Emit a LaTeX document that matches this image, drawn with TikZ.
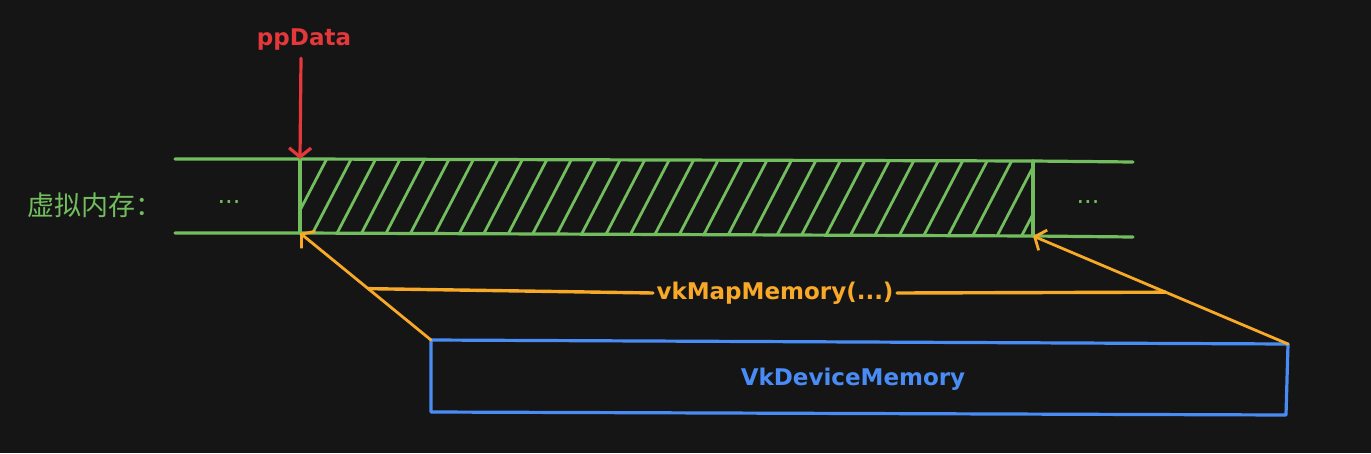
\documentclass[tikz,border=0pt]{standalone}
\usepackage{fontspec}
\setmainfont{DejaVu Sans}
\newfontfamily\cjk{Noto Sans CJK SC}
\usetikzlibrary{arrows.meta,calc}
\definecolor{bg}{HTML}{151515}
\definecolor{memgreen}{HTML}{72BD5E}
\definecolor{ptrred}{HTML}{E5383B}
\definecolor{maporange}{HTML}{F8A928}
\definecolor{devblue}{HTML}{4A8CF5}
\tikzset{
    barb/.style={-{Straight Barb[length=9pt,width=22pt]}},
    boldlabel/.style={font=\fontsize{23}{28}\selectfont\bfseries},
}
\begin{document}
\begin{tikzpicture}[x=1pt,y=-1pt,line cap=round,line join=round]
        %% Background
        \fill[bg] (0,0) rectangle (1371,453);
        %% Memory strip
        \coordinate (ltop) at (175,159);
        \coordinate (lbot) at (175,233);
        \coordinate (hA) at (300,159);
        \coordinate (hB) at (1033,161);
        \coordinate (hC) at (1033,236);
        \coordinate (hD) at (300,233);
        \coordinate (rtop) at (1133,162);
        \coordinate (rbot) at (1133,237);
        \begin{scope}
            \clip (hA) -- (hB) -- (hC) -- (hD) -- cycle;
            \foreach \i in {0,...,30}
                \draw[memgreen,line width=2.8pt] ({326.7+24.5*\i+4.7},150) to ({326.7+24.5*\i-44.8},245);
        \end{scope}
        \draw[memgreen,line width=3.2pt] (ltop) to (hA) to (hB) to (rtop);
        \draw[memgreen,line width=3.2pt] (lbot) to (hD) to (hC) to (rbot);
        \draw[memgreen,line width=3.4pt] (hA) to (hD);
        \draw[memgreen,line width=3.2pt] (hB) to (hC);
        \node[anchor=west,text=memgreen,font=\cjk\fontsize{27}{32}\selectfont] (virt) at (24,205) {虚拟内存：};
        \node[anchor=base,text=memgreen,font=\fontsize{24}{26}\selectfont] (ldots) at (229,203) {...};
        \node[anchor=base,text=memgreen,font=\fontsize{24}{26}\selectfont] (rdots) at (1088,203) {...};
        %% ppData Label
        \node[anchor=center,text=ptrred,boldlabel] (pp) at (304,40) {ppData};
        \draw[ptrred,line width=3.2pt,barb] (pp.south) ++(-3,4) coordinate (ppstart) (ppstart) to (hA);
        %% VkDeviceMemory
        \coordinate (bxA) at (431,340);
        \coordinate (bxB) at (1288,344);
        \coordinate (bxC) at (1286,415);
        \coordinate (bxD) at (431,412);
        \draw[devblue,line width=3.2pt] (bxA) to (bxB) to (bxC) to (bxD) to cycle;
        \node[anchor=center,text=devblue,boldlabel] (dev) at (853,379) {VkDeviceMemory};
        %% vkMapMemory Label
        \draw[maporange,line width=2.8pt,barb] (bxA) to (hD);
        \draw[maporange,line width=2.8pt,barb] (bxB) to (hC);
        \node[anchor=center,text=maporange,boldlabel] (map) at (775,293) {vkMapMemory(...)};
        \coordinate (mapL) at ($(bxA)!0.48!(hD)$);
        \coordinate (mapR) at ($(bxB)!0.48!(hC)$);
        \draw[maporange,line width=3.4pt] (mapL) to (map.west);
        \draw[maporange,line width=3.4pt] (map.east) to (mapR);
    \end{tikzpicture}
\end{document}
